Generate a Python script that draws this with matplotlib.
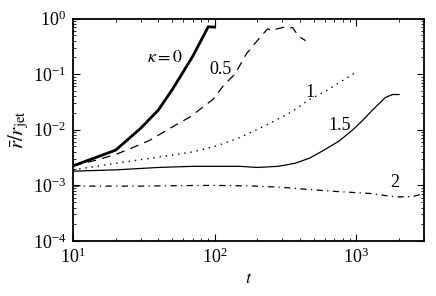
import numpy as np
import matplotlib
matplotlib.use("Agg")
import matplotlib.pyplot as plt

plt.rcParams['font.family'] = ['Liberation Serif', 'DejaVu Serif']
plt.rcParams['mathtext.fontset'] = 'stix'

"""
curves read off the reference, one per kappa
"""
t_k0 = [10, 20, 30, 40, 50, 60, 70, 80, 90, 100]
r_k0 = [0.00224, 0.0043, 0.0106, 0.0226, 0.052, 0.11, 0.21, 0.40, 0.71, 0.70]

t_k05 = [10, 15, 20, 25, 35, 48, 67, 97, 117, 139, 167, 206, 236, 256, 274, 311, 338, 354, 391, 438]
r_k05 = [0.00224, 0.0029, 0.0036, 0.0045, 0.0065, 0.0105, 0.0170, 0.035, 0.065, 0.10, 0.23, 0.44,
         0.65, 0.60, 0.65, 0.70, 0.67, 0.69, 0.48, 0.40]

t_k1 = [10, 20, 30, 50, 70, 100, 150, 230, 350, 450, 650, 1000]
r_k1 = [0.0019, 0.0025, 0.0029, 0.0035, 0.0040, 0.0050, 0.0072, 0.012, 0.021, 0.033, 0.055, 0.11]

t_k15 = [10, 20, 40, 70, 100, 150, 200, 280, 370, 470, 580, 750, 940, 1100, 1300, 1600, 1800, 2000]
r_k15 = [0.0018, 0.0019, 0.0021, 0.0022, 0.0022, 0.0022, 0.0021, 0.0022, 0.0025, 0.0031, 0.0042,
         0.0062, 0.0099, 0.0145, 0.0226, 0.038, 0.043, 0.043]

t_k2 = [10, 30, 60, 100, 200, 300, 450, 700, 1000, 1300, 1700, 2000, 2500, 2800]
r_k2 = [0.00097, 0.00097, 0.00099, 0.00100, 0.00097, 0.00092, 0.00085, 0.00078, 0.00074, 0.00071,
        0.00064, 0.00062, 0.00063, 0.00068]

labels = [r'$\kappa = 0$', '0.5', '1', '1.5', '2']
label_pos = [(44.5, 0.195), (110, 0.119), (467, 0.0477), (759, 0.0117), (1854, 0.00115)]


fig = plt.figure(figsize=(4.36, 2.96), dpi=100)
ax = fig.add_axes([0.1674, 0.1858, 0.8051, 0.7517])

ax.plot(t_k0, r_k0, 'k-', lw=2.0)
ax.plot(t_k05, r_k05, 'k', lw=0.9, dashes=(7, 5))
ax.plot(t_k1, r_k1, 'k', lw=1.0, dashes=(1, 3.5))
ax.plot(t_k15, r_k15, 'k-', lw=0.9)
ax.plot(t_k2, r_k2, 'k', lw=0.9, dashes=(5, 3.5, 1, 3.5))

for lab, (x, y) in zip(labels, label_pos):
    ax.text(x, y, lab, ha='center', va='center', fontsize=13)

ax.set_xscale('log')
ax.set_yscale('log')
ax.set_xlim(10, 3000)
ax.set_ylim(1e-4, 1)

ax.set_xlabel(r'$t$', fontsize=13, labelpad=2)
ax.set_ylabel(r'$\bar{r}/r_\mathrm{jet}$', fontsize=15, labelpad=1)

ax.tick_params(which='both', direction='in', top=True, right=True, labelsize=13)
ax.tick_params(which='major', length=5, width=0.8, pad=5)
ax.tick_params(which='minor', length=2.5, width=0.6)
for s in ax.spines.values():
    s.set_linewidth(1.3)

fig.savefig('out.png', dpi=100)
